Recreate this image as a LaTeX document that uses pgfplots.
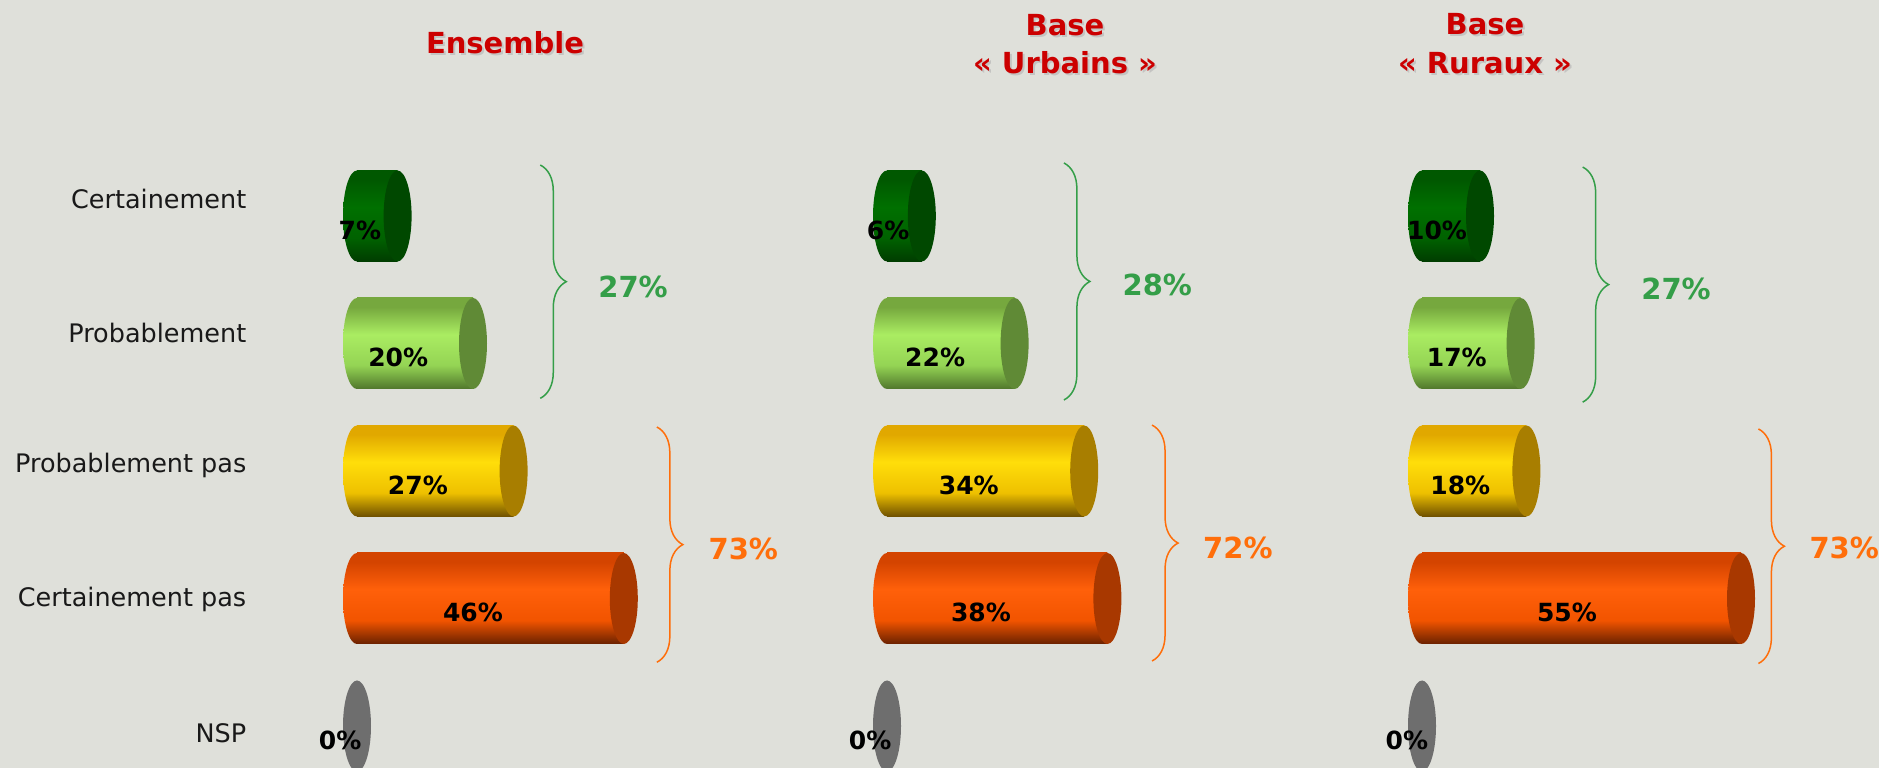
\documentclass[border=0pt]{standalone}
\usepackage{fontspec}
\setmainfont{DejaVu Sans}
\usepackage{pgfplots}
\pgfplotsset{compat=1.18}
\usetikzlibrary{decorations.pathreplacing}

\definecolor{bg}{RGB}{223,224,218}
\definecolor{titred}{RGB}{204,0,0}
\definecolor{grn}{RGB}{52,158,72}
\definecolor{org}{RGB}{255,110,10}
\definecolor{nspgray}{RGB}{110,110,110}
% dark green
\definecolor{dgT}{RGB}{0,88,0}\definecolor{dgL}{RGB}{0,112,0}\definecolor{dgM}{RGB}{0,98,0}\definecolor{dgB}{RGB}{0,60,0}\definecolor{dgC}{RGB}{0,72,0}
% light green
\definecolor{lgT}{RGB}{118,168,62}\definecolor{lgL}{RGB}{170,236,98}\definecolor{lgM}{RGB}{148,212,84}\definecolor{lgB}{RGB}{80,118,44}\definecolor{lgC}{RGB}{96,138,54}
% yellow
\definecolor{yeT}{RGB}{225,168,0}\definecolor{yeL}{RGB}{255,222,10}\definecolor{yeM}{RGB}{238,192,0}\definecolor{yeB}{RGB}{110,80,0}\definecolor{yeC}{RGB}{168,126,0}
% orange
\definecolor{orT}{RGB}{212,68,0}\definecolor{orL}{RGB}{255,96,10}\definecolor{orM}{RGB}{242,84,0}\definecolor{orB}{RGB}{105,33,0}\definecolor{orC}{RGB}{168,56,0}

\pgfdeclareverticalshading{shdg}{100bp}{color(0bp)=(dgB); color(25bp)=(dgB); color(38bp)=(dgM); color(55bp)=(dgL); color(70bp)=(dgT); color(75bp)=(dgT); color(100bp)=(dgT)}
\pgfdeclareverticalshading{shlg}{100bp}{color(0bp)=(lgB); color(25bp)=(lgB); color(38bp)=(lgM); color(55bp)=(lgL); color(70bp)=(lgT); color(75bp)=(lgT); color(100bp)=(lgT)}
\pgfdeclareverticalshading{shye}{100bp}{color(0bp)=(yeB); color(25bp)=(yeB); color(38bp)=(yeM); color(55bp)=(yeL); color(70bp)=(yeT); color(75bp)=(yeT); color(100bp)=(yeT)}
\pgfdeclareverticalshading{shor}{100bp}{color(0bp)=(orB); color(25bp)=(orB); color(38bp)=(orM); color(55bp)=(orL); color(70bp)=(orT); color(75bp)=(orT); color(100bp)=(orT)}

\pgfdeclareplotmark{cylLdg}{\pgfpathellipse{\pgfpointorigin}{\pgfqpoint{5.6pt}{0pt}}{\pgfqpoint{0pt}{18.2pt}}\pgfshadepath{shdg}{0}\pgfusepath{}}
\pgfdeclareplotmark{cylLlg}{\pgfpathellipse{\pgfpointorigin}{\pgfqpoint{5.6pt}{0pt}}{\pgfqpoint{0pt}{18.2pt}}\pgfshadepath{shlg}{0}\pgfusepath{}}
\pgfdeclareplotmark{cylLye}{\pgfpathellipse{\pgfpointorigin}{\pgfqpoint{5.6pt}{0pt}}{\pgfqpoint{0pt}{18.2pt}}\pgfshadepath{shye}{0}\pgfusepath{}}
\pgfdeclareplotmark{cylLor}{\pgfpathellipse{\pgfpointorigin}{\pgfqpoint{5.6pt}{0pt}}{\pgfqpoint{0pt}{18.2pt}}\pgfshadepath{shor}{0}\pgfusepath{}}
\pgfdeclareplotmark{cap}{\pgfpathellipse{\pgfpointorigin}{\pgfqpoint{5.6pt}{0pt}}{\pgfqpoint{0pt}{18.2pt}}\pgfusepathqfill}

% #1 colour key, #2 value, #3 row
\newcommand{\cyl}[3]{%
  \addplot[only marks, mark=cylL#1] coordinates {(0,#3)};
  \addplot[xbar, bar width=36.4pt, bar shift=0pt, draw=none, shade, shading=sh#1] coordinates {(#2,#3)};
  \addplot[only marks, mark=cap, mark options={fill=#1C, draw=none}] coordinates {(#2,#3)};
}

\pgfplotsset{panel/.style={x=2.32pt, y=51pt, y dir=reverse, xmin=-19, xmax=75, ymin=-0.7, ymax=4.6,
  axis line style={draw=none}, xtick=\empty, ytick=\empty, clip=false, anchor=origin,
  major tick length=0pt},
  vallab/.style={draw=none, mark=none, nodes near coords, point meta=explicit symbolic,
  every node near coord/.append style={anchor=center, yshift=-5.6pt, text=black,
  font=\fontsize{10pt}{12pt}\selectfont\bfseries}}}

\newcommand{\bigpct}{\fontsize{11.6pt}{13pt}\selectfont\bfseries}
\newcommand{\titfont}{\fontsize{11.6pt}{13pt}\selectfont\bfseries}

\begin{document}
\begin{tikzpicture}
\begin{scope}[x=0.4pt,y=0.4pt]
\fill[bg] (0,0) rectangle (1879,768);
% Titles
\foreach \tx/\ty/\tt in {505/43/Ensemble, 1065/25/Base, 1065/63/«~Urbains~», 1485/24/Base, 1485/63/«~Ruraux~»}{
  \node[text=black!30, opacity=0.6, font=\titfont] at (\tx+2,768-\ty-2) {\tt};
  \node[text=titred, font=\titfont] at (\tx,768-\ty) {\tt};
}
\end{scope}

% Panel 1: Ensemble
\begin{axis}[panel, at={(142.8pt,220.8pt)},
  ytick={-0.13,0.92,1.96,3.01,4.06},
  yticklabels={Certainement,Probablement,Probablement pas,Certainement pas,NSP},
  yticklabel style={anchor=east, inner sep=0pt, text=black!90, font=\fontsize{10.2pt}{12pt}\selectfont}]
\cyl{dg}{7}{0}
\cyl{lg}{20}{1}
\cyl{ye}{27}{2}
\cyl{or}{46}{3}
\addplot[only marks, mark=cap, mark options={fill=nspgray, draw=none}] coordinates {(0,4)};
\addplot[vallab] coordinates {(0.5,0) [7\%] (7.1,1) [20\%] (10.5,2) [27\%] (20,3) [46\%] (-2.9,4) [0\%]};
\draw[decorate, decoration={brace, amplitude=10.4pt}, grn, line width=0.6pt] (axis cs:31.6,-0.40) -- (axis cs:31.6,1.43);
\draw[decorate, decoration={brace, amplitude=10.4pt}, org, line width=0.6pt] (axis cs:51.7,1.655) -- (axis cs:51.7,3.50);
\node[text=grn, font=\bigpct] at (axis cs:47.6,0.557) {27\%};
\node[text=org, font=\bigpct] at (axis cs:66.6,2.61) {73\%};
\end{axis}

% Panel 2: Urbains
\begin{axis}[panel, at={(354.8pt,220.8pt)}]
\cyl{dg}{6}{0}
\cyl{lg}{22}{1}
\cyl{ye}{34}{2}
\cyl{or}{38}{3}
\addplot[only marks, mark=cap, mark options={fill=nspgray, draw=none}] coordinates {(0,4)};
\addplot[vallab] coordinates {(0.2,0) [6\%] (8.3,1) [22\%] (14.1,2) [34\%] (16.2,3) [38\%] (-2.9,4) [0\%]};
\draw[decorate, decoration={brace, amplitude=10.4pt}, grn, line width=0.6pt] (axis cs:30.5,-0.416) -- (axis cs:30.5,1.443);
\draw[decorate, decoration={brace, amplitude=10.4pt}, org, line width=0.6pt] (axis cs:45.7,1.64) -- (axis cs:45.7,3.49);
\node[text=grn, font=\bigpct] at (axis cs:46.6,0.54) {28\%};
\node[text=org, font=\bigpct] at (axis cs:60.5,2.60) {72\%};
\end{axis}

% Panel 3: Ruraux
\begin{axis}[panel, at={(568.8pt,220.8pt)}]
\cyl{dg}{10}{0}
\cyl{lg}{17}{1}
\cyl{ye}{18}{2}
\cyl{or}{55}{3}
\addplot[only marks, mark=cap, mark options={fill=nspgray, draw=none}] coordinates {(0,4)};
\addplot[vallab] coordinates {(2.6,0) [10\%] (6.0,1) [17\%] (6.6,2) [18\%] (25.0,3) [55\%] (-2.6,4) [0\%]};
\draw[decorate, decoration={brace, amplitude=10.4pt}, grn, line width=0.6pt] (axis cs:27.7,-0.384) -- (axis cs:27.7,1.46);
\draw[decorate, decoration={brace, amplitude=10.4pt}, org, line width=0.6pt] (axis cs:58.0,1.67) -- (axis cs:58.0,3.51);
\node[text=grn, font=\bigpct] at (axis cs:43.8,0.57) {27\%};
\node[text=org, font=\bigpct] at (axis cs:72.8,2.60) {73\%};
\end{axis}

\pgfresetboundingbox
\path[use as bounding box] (0,0) rectangle (751.6pt,307.2pt);
\end{tikzpicture}
\end{document}
